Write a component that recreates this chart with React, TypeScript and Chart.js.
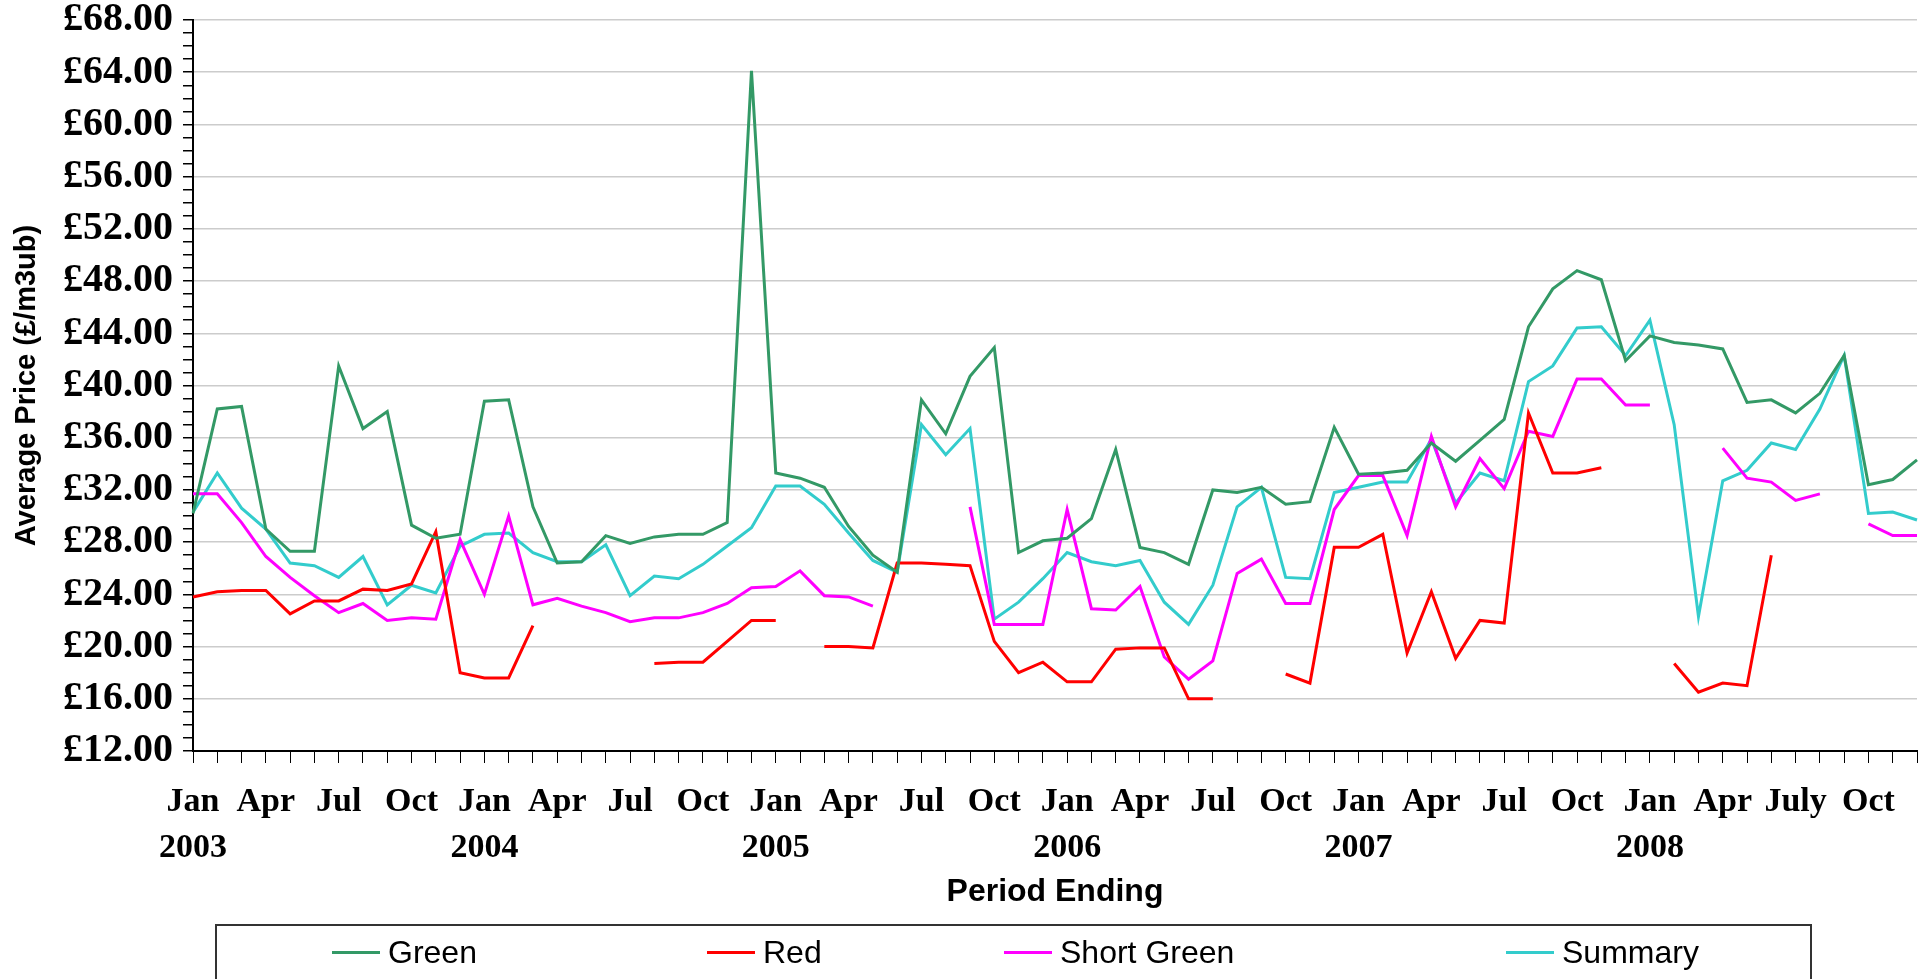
import React, { useEffect, useRef } from 'react';
import Chart from 'chart.js/auto';

const MONTHS = ['Jan', 'Feb', 'Mar', 'Apr', 'May', 'Jun', 'Jul', 'Aug', 'Sep', 'Oct', 'Nov', 'Dec'];
const YEARS = [2003, 2004, 2005, 2006, 2007, 2008];
const labels = YEARS.flatMap(y => MONTHS.map(m => `${m} ${y}`));

const green = [
  30.2, 38.2, 38.4, 29, 27.3, 27.3, 41.5, 36.7, 38, 29.3, 28.3, 28.6,
  38.8, 38.9, 30.7, 26.4, 26.5, 28.5, 27.9, 28.4, 28.6, 28.6, 29.5, 64.1,
  33.3, 32.9, 32.2, 29.2, 27, 25.7, 38.9, 36.3, 40.7, 42.9, 27.2, 28.1,
  28.3, 29.8, 35.1, 27.6, 27.2, 26.3, 32, 31.8, 32.2, 30.9, 31.1, 36.8,
  33.2, 33.3, 33.5, 35.6, 34.2, 35.8, 37.4, 44.5, 47.4, 48.8, 48.1, 41.9,
  43.8, 43.3, 43.1, 42.8, 38.7, 38.9, 37.9, 39.4, 42.3, 32.4, 32.8, 34.3,
];
const red = [
  23.8, 24.2, 24.3, 24.3, 22.5, 23.5, 23.5, 24.4, 24.3, 24.8, 28.8, 18,
  17.6, 17.6, 21.6, null, null, null, null, 18.7, 18.8, 18.8, 20.4, 22,
  22, null, 20, 20, 19.9, 26.4, 26.4, 26.3, 26.2, 20.4, 18, 18.8,
  17.3, 17.3, 19.8, 19.9, 19.9, 16, 16, null, null, 17.9, 17.2, 27.6,
  27.6, 28.6, 19.5, 24.2, 19.1, 22, 21.8, 37.9, 33.3, 33.3, 33.7, null,
  null, 18.7, 16.5, 17.2, 17, 27, null, null, null, null, null, null,
];
const shortGreen = [
  31.7, 31.7, 29.5, 26.9, 25.3, 23.9, 22.6, 23.3, 22, 22.2, 22.1, 28.2,
  24, 30, 23.2, 23.7, 23.1, 22.6, 21.9, 22.2, 22.2, 22.6, 23.3, 24.5,
  24.6, 25.8, 23.9, 23.8, 23.1, null, null, null, 30.7, 21.7, 21.7, 21.7,
  30.5, 22.9, 22.8, 24.6, 19.2, 17.5, 18.9, 25.6, 26.7, 23.3, 23.3, 30.5,
  33.1, 33.1, 28.5, 36.1, 30.7, 34.4, 32.1, 36.5, 36.1, 40.5, 40.5, 38.5,
  38.5, null, null, 35.2, 32.9, 32.6, 31.2, 31.7, null, 29.4, 28.5, 28.5,
];
const summary = [
  30.3, 33.3, 30.6, 29, 26.4, 26.2, 25.3, 26.9, 23.2, 24.7, 24.1, 27.7,
  28.6, 28.7, 27.2, 26.5, 26.5, 27.8, 23.9, 25.4, 25.2, 26.3, 27.7, 29.1,
  32.3, 32.3, 30.9, 28.7, 26.6, 25.7, 37, 34.7, 36.7, 22.1, 23.4, 25.2,
  27.2, 26.5, 26.2, 26.6, 23.4, 21.7, 24.7, 30.7, 32.2, 25.3, 25.2, 31.8,
  32.2, 32.6, 32.6, 35.9, 31, 33.3, 32.7, 40.3, 41.5, 44.4, 44.5, 42.3,
  45, 37, 22.3, 32.7, 33.5, 35.6, 35.1, 38.2, 42.3, 30.2, 30.3, 29.7,
];

const series = [
  { label: 'Green', data: green, color: '#339966' },
  { label: 'Red', data: red, color: '#ff0000' },
  { label: 'Short Green', data: shortGreen, color: '#ff00ff' },
  { label: 'Summary', data: summary, color: '#33cccc' },
];
const legendX = [332, 707, 1004, 1506];

export default function App() {
  const canvasRef = useRef<HTMLCanvasElement | null>(null);

  useEffect(() => {
    document.body.style.margin = '0';
    const ctx = canvasRef.current?.getContext('2d');
    if (!ctx) return;
    const serif = '"Liberation Serif", "Times New Roman", serif';
    const sans = '"Liberation Sans", Arial, sans-serif';
    const chart = new Chart(ctx, {
      type: 'line',
      data: {
        labels,
        datasets: series.map(s => ({
          label: s.label,
          data: s.data,
          borderColor: s.color,
          backgroundColor: s.color,
          borderWidth: 3,
          pointRadius: 0,
          tension: 0,
          spanGaps: false,
        })),
      },
      options: {
        responsive: false,
        animation: false,
        layout: { padding: { top: 20, right: 4, bottom: 68, left: 0 } },
        plugins: { legend: { display: false }, tooltip: { enabled: false } },
        scales: {
          x: {
            offset: false,
            grid: { drawOnChartArea: false, tickLength: 12, color: '#000', tickColor: '#000' },
            border: { color: '#000', width: 2 },
            ticks: {
              autoSkip: false,
              maxRotation: 0,
              color: '#000',
              font: { family: serif, size: 34, weight: 'bold', lineHeight: 1.35 },
              padding: 16,
              callback: (_v, i) => {
                if (i % 3 !== 0) return '';
                const m = i % 12 === 6 && i >= 66 ? 'July' : MONTHS[i % 12];
                return i % 12 === 0 ? [m, String(YEARS[i / 12])] : [m, ''];
              },
            },
            title: {
              display: true,
              text: 'Period Ending',
              color: '#000',
              font: { family: sans, size: 32, weight: 'bold' },
              padding: { top: 0, bottom: 0 },
            },
            afterFit: (s: any) => { s.height = 160; s.paddingLeft = 0; s.paddingRight = 0; },
          },
          y: {
            min: 12,
            max: 68,
            grid: {
              color: (c: any) => (c.tick && c.tick.value % 4 === 0 && c.tick.value !== 12 ? '#cccccc' : 'transparent'),
              tickColor: '#000',
              tickLength: 10,
              lineWidth: 1.5,
            },
            border: { color: '#000', width: 2 },
            ticks: {
              stepSize: 1,
              autoSkip: false,
              color: '#000',
              font: { family: serif, size: 40, weight: 'bold' },
              padding: 10,
              callback: v => (Number(v) % 4 === 0 ? '£' + Number(v).toFixed(2) : ''),
            },
            title: {
              display: true,
              text: 'Average Price (£/m3ub)',
              color: '#000',
              font: { family: sans, size: 29, weight: 'bold' },
              padding: { top: 10, bottom: 0 },
            },
            afterFit: (s: any) => { s.width = 193; s.paddingTop = 0; s.paddingBottom = 0; },
          },
        },
      },
    });
    return () => chart.destroy();
  }, []);

  return (
    <div style={{ position: 'relative', width: 1921, height: 979, overflow: 'hidden', background: '#fff' }}>
      <canvas ref={canvasRef} width={1921} height={979} />
      <div style={{ position: 'absolute', left: 215, top: 924, width: 1597, height: 80, border: '2px solid #333', boxSizing: 'border-box' }} />
      {series.map((s, i) => (
        <div key={s.label} style={{ position: 'absolute', left: legendX[i], top: 934, display: 'flex', alignItems: 'center', fontFamily: '"Liberation Sans", Arial, sans-serif', fontSize: 32, color: '#000' }}>
          <span style={{ display: 'inline-block', width: 48, height: 3, background: s.color, marginRight: 8 }} />
          {s.label}
        </div>
      ))}
    </div>
  );
}
